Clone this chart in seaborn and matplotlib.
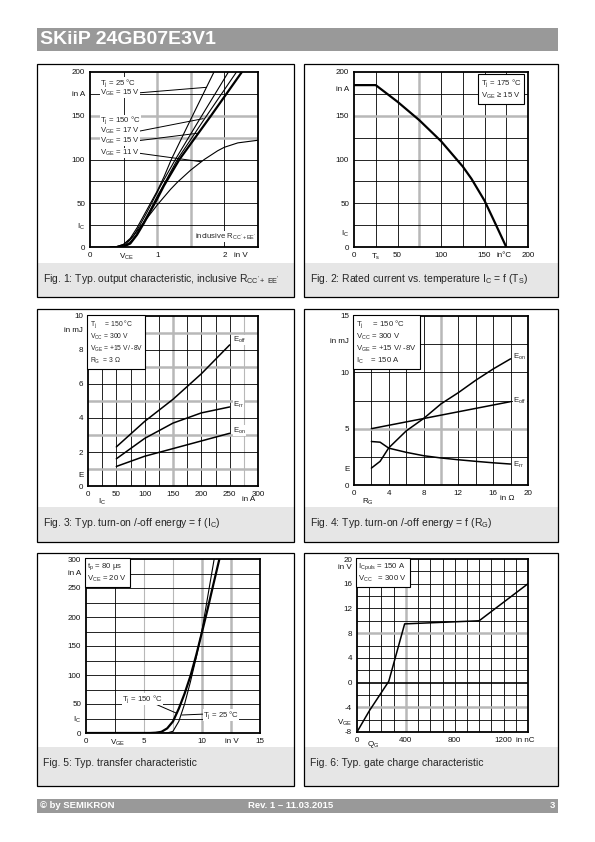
import matplotlib.pyplot as plt
import matplotlib.patches as mpatches
import seaborn as sns

# Fig. 1: output characteristic (V_CE in V, I_C in A)
f1_v_a = [0.3, 0.4, 0.5, 0.6, 0.7, 0.8, 0.9, 1.0, 1.1, 1.21, 1.5, 1.845]
f1_i_a = [0, 0.5, 3, 10, 22, 36, 50, 64, 80, 100, 146, 200]
f1_v_b = [0.35, 0.45, 0.55, 0.65, 0.75, 0.85, 0.95, 1.05, 1.27, 1.6, 2.06]
f1_i_b = [0, 0.5, 4, 13, 26, 40, 55, 70, 100, 142, 200]
f1_v_c = [0.38, 0.48, 0.58, 0.68, 0.78, 0.88, 0.98, 1.08, 1.30, 1.7, 2.18]
f1_i_c = [0, 0.5, 4, 13, 26, 40, 55, 69, 100, 146, 200]
f1_v_d = [0.4, 0.5, 0.6, 0.7, 0.8, 0.9, 1.0, 1.1, 1.33, 1.8, 2.26]
f1_i_d = [0, 0.5, 4, 14, 27, 41, 55, 70, 100, 150, 200]
f1_v_11 = [0.3, 0.4, 0.5, 0.6, 0.7, 0.8, 0.9, 1.0, 1.1, 1.2, 1.3, 1.5, 1.7, 1.9, 2.0, 2.2, 2.5]
f1_i_11 = [0, 0.5, 3, 9, 18, 28, 38, 48, 57, 66, 74, 88, 100, 110, 114, 119, 122]
f1_v_zero = [0.0, 0.4]
f1_i_zero = [0, 0]

# Fig. 2: rated current vs. sink temperature
f2_ts = [0, 25, 50, 75, 100, 125, 135, 150, 160, 175]
f2_ic = [185, 185, 166, 145, 121, 92, 78, 53, 32, 0]

# Fig. 3: switching energy vs. I_C
f3_ic = [50, 100, 150, 200, 250]
f3_eoff = [2.3, 3.8, 5.1, 6.6, 8.3]
f3_err = [1.6, 2.8, 3.7, 4.3, 4.65]
f3_eon = [1.15, 1.75, 2.2, 2.65, 3.1]

# Fig. 4: switching energy vs. R_G
f4_rg_on = [2, 3, 4, 6, 8, 10, 12, 14, 16, 18]
f4_eon = [1.5, 2.1, 3.3, 4.8, 5.9, 7.2, 8.2, 9.3, 10.3, 11.2]
f4_rg_off = [2, 4, 8, 12, 18]
f4_eoff = [5.0, 5.3, 5.9, 6.5, 7.4]
f4_rg_rr = [2, 3, 4, 6, 8, 10, 12, 14, 16, 18]
f4_err = [3.86, 3.8, 3.27, 2.9, 2.6, 2.4, 2.24, 2.1, 1.97, 1.86]

# Fig. 5: transfer characteristic
f5_v_150 = [0, 5.5, 6.0, 6.5, 7.0, 7.5, 8.0, 8.5, 9.0, 9.5, 10.0, 10.5, 11.0, 11.5]
f5_i_150 = [0, 0, 0.5, 2, 8, 20, 42, 68, 98, 134, 174, 215, 258, 300]
f5_v_25 = [0, 7.0, 7.5, 8.0, 8.5, 9.0, 9.5, 10.0, 10.5, 11.05]
f5_i_25 = [0, 0, 3, 20, 50, 88, 130, 177, 236, 300]

# Fig. 6: gate charge characteristic
f6_qg = [0, 100, 260, 390, 1000, 1400]
f6_vge = [-8, -4.6, 0.2, 9.5, 10.0, 16.0]

# tick labels
f1_xt, f1_xl = [0, 0.55, 1, 2, 2.25], ['0', '$V_{CE}$', '1', '2', 'in V']
f1_yt, f1_yl = [0, 25, 50, 100, 150, 175, 200], ['0', '$I_C$', '50', '100', '150', 'in A', '200']
f2_xt, f2_xl = [0, 25, 50, 100, 150, 173, 200], ['0', '$T_s$', '50', '100', '150', 'in°C', '200']
f2_yt, f2_yl = [0, 17, 50, 100, 150, 181, 200], ['0', '$I_C$', '50', '100', '150', 'in A', '200']
f3_xt, f3_xl = [0, 24, 50, 100, 150, 200, 250, 283, 300], ['0', '$I_C$', '50', '100', '150', '200', '250', 'in A', '300']
f3_yt, f3_yl = [0, 0.65, 2, 4, 6, 8, 9.2, 10], ['0', 'E', '2', '4', '6', '8', 'in mJ', '10']
f4_xt, f4_xl = [0, 1.6, 4, 8, 12, 16, 17.6, 20], ['0', '$R_G$', '4', '8', '12', '16', 'in Ω', '20']
f4_yt, f4_yl = [0, 1.5, 5, 10, 12.8, 15], ['0', 'E', '5', '10', 'in mJ', '15']
f5_xt, f5_xl = [0, 2.7, 5, 10, 12.6, 15], ['0', '$V_{GE}$', '5', '10', 'in V', '15']
f5_yt, f5_yl = [0, 25, 50, 100, 150, 200, 250, 276, 300], ['0', '$I_C$', '50', '100', '150', '200', '250', 'in A', '300']
f6_xt, f6_xl = [0, 130, 400, 800, 1200, 1375], ['0', '$Q_G$', '400', '800', '1200', 'in nC']
f6_yt, f6_yl = [-8, -6.2, -4, 0, 4, 8, 12, 16, 18.8, 20], ['-8', '$V_{GE}$', '-4', '0', '4', '8', '12', '16', 'in V', '20']

captions = [
    "Fig. 1: Typ. output characteristic, inclusive $R_{CC'+\\ EE'}$",
    "Fig. 2: Rated current vs. temperature $I_C$ = f ($T_S$)",
    "Fig. 3: Typ. turn-on /-off energy = f ($I_C$)",
    "Fig. 4: Typ. turn-on /-off energy = f ($R_G$)",
    "Fig. 5: Typ. transfer characteristic",
    "Fig. 6: Typ. gate charge characteristic",
]

# ---------------- style ----------------
sns.set_style("white")
plt.rcParams['font.family'] = ['Liberation Sans', 'DejaVu Sans']
plt.rcParams['mathtext.fontset'] = 'custom'
plt.rcParams['mathtext.rm'] = 'Liberation Sans'
plt.rcParams['mathtext.it'] = 'Liberation Sans'
plt.rcParams['mathtext.default'] = 'regular'

W, H = 595, 842
GRAY = '#b8b8b8'
fig = plt.figure(figsize=(W / 100, H / 100), dpi=100)


def box(x0, y0, x1, y1):
    return [x0 / W, 1 - y1 / H, (x1 - x0) / W, (y1 - y0) / H]


def rect(x0, y0, x1, y1, **kw):
    fig.add_artist(mpatches.Rectangle((x0 / W, 1 - y1 / H), (x1 - x0) / W, (y1 - y0) / H,
                                      transform=fig.transFigure, **kw))


def setup(ax, xlim, ylim, xt, xl, yt, yl, vk=(), vg=(), hk=(), hg=(), vt=(), ht=(), low=()):
    ax.set_xlim(*xlim)
    ax.set_ylim(*ylim)
    for v in vk:
        ax.axvline(v, color='black', lw=0.6, zorder=1)
    for v in vt:
        ax.axvline(v, color=GRAY, lw=0.8, zorder=1)
    for v in vg:
        ax.axvline(v, color=GRAY, lw=1.8, zorder=1)
    for h in hk:
        ax.axhline(h, color='black', lw=0.6, zorder=1)
    for h in ht:
        ax.axhline(h, color=GRAY, lw=0.8, zorder=1)
    for h in hg:
        ax.axhline(h, color=GRAY, lw=1.8, zorder=1)
    ax.set_xticks(xt, xl)
    ax.set_yticks(yt, yl)
    ax.tick_params(length=0, labelsize=5.8, pad=3.5, colors='#111111')
    # some axis-name labels sit a little lower than the numbers
    for i, extra in low:
        ax.xaxis.get_major_ticks()[i].set_pad(3.5 + extra)
    for s in ax.spines.values():
        s.set_color('black')
        s.set_linewidth(1.3)
        s.set_zorder(4)
    ax.set_xlabel('')
    ax.set_ylabel('')


def line(ax, x, y, lw=0.9):
    sns.lineplot(x=x, y=y, ax=ax, color='black', lw=lw, sort=False, estimator=None, zorder=3)


def infobox(ax, x, y, txt, size=5.6, family=None):
    kw = {} if family is None else {'family': family}
    ax.text(x, y, txt, fontsize=size, va='top', ha='left', linespacing=1.25, zorder=6,
            bbox=dict(boxstyle='square,pad=0.35', fc='white', ec='black', lw=0.8), **kw)


def wtext(ax, x, y, txt, ha='left'):
    ax.text(x, y, txt, fontsize=5.6, va='center', ha=ha, zorder=5,
            bbox=dict(boxstyle='square,pad=0.02', fc='white', ec='none'))


# ---------------- page decorations ----------------
rect(37, 28, 558, 51, fc='#999999', ec='none')
fig.text(40 / W, 1 - 40 / H, 'SKiiP 24GB07E3V1', color='white', fontsize=14,
         fontweight='bold', va='center', ha='left')
rect(37, 799, 558, 813, fc='#999999', ec='none')
fig.text(40 / W, 1 - 806 / H, '© by SEMIKRON', color='white', fontsize=6.8, fontweight='bold', va='center')
fig.text(291 / W, 1 - 806 / H, 'Rev. 1 – 11.03.2015', color='white', fontsize=6.8, fontweight='bold',
         va='center', ha='center')
fig.text(555 / W, 1 - 806 / H, '3', color='white', fontsize=6.8, fontweight='bold', va='center', ha='right')

rows = [(64, 263, 297), (309, 507, 542), (553, 747, 786)]
cols = [(37, 294), (304, 558)]
k = 0
for (top, cap, bot) in rows:
    for (l, r) in cols:
        rect(l, cap, r, bot, fc='#e6e6e6', ec='none', zorder=-1)
        rect(l, top, r, bot, fc='none', ec='black', lw=0.9, zorder=5)
        fig.text((l + 6) / W, 1 - (cap + 16) / H, captions[k], fontsize=7.5, va='center', ha='left')
        k += 1

# ---------------- Fig. 1 ----------------
ax1 = fig.add_axes(box(90, 72, 258, 247))
setup(ax1, (0, 2.5), (0, 200), f1_xt, f1_xl, f1_yt, f1_yl,
      vk=[0.5, 2.0], vg=[1.0, 1.5], hk=[25, 50, 75, 100, 175], hg=[125, 150])
line(ax1, f1_v_zero, f1_i_zero, 0.9)
line(ax1, f1_v_a, f1_i_a, 0.8)
line(ax1, f1_v_b, f1_i_b, 0.8)
line(ax1, f1_v_c, f1_i_c, 0.8)
line(ax1, f1_v_d, f1_i_d, 1.6)
line(ax1, f1_v_11, f1_i_11, 0.8)
ax1.plot([0.70, 1.735], [176, 182.5], color='black', lw=0.7, zorder=4)
ax1.plot([0.74, 1.685], [132.5, 146.7], color='black', lw=0.7, zorder=4)
ax1.plot([0.72, 1.6], [121.5, 130], color='black', lw=0.7, zorder=4)
ax1.plot([0.70, 1.65], [107.5, 97.5], color='black', lw=0.7, zorder=4)
wtext(ax1, 0.15, 187, '$T_j$ = 25 °C')
wtext(ax1, 0.15, 176, '$V_{GE}$ = 15 V')
wtext(ax1, 0.15, 144.5, '$T_j$ = 150 °C')
wtext(ax1, 0.15, 132.5, '$V_{GE}$ = 17 V')
wtext(ax1, 0.15, 121, '$V_{GE}$ = 15 V')
wtext(ax1, 0.15, 107.5, '$V_{GE}$ = 11 V')
wtext(ax1, 2.48, 12, "inclusive $R_{CC'+EE'}$", ha='right')

# ---------------- Fig. 2 ----------------
ax2 = fig.add_axes(box(354, 72, 528, 247))
setup(ax2, (0, 200), (0, 200), f2_xt, f2_xl, f2_yt, f2_yl,
      vk=[25, 50, 100, 125, 150, 175], vg=[75], hk=[25, 50, 75, 100, 125, 175], hg=[150])
line(ax2, f2_ts, f2_ic, 1.6)
infobox(ax2, 146, 194, '$T_j$ = 175 °C\n$V_{GE}$ ≥ 15 V')

# ---------------- Fig. 3 ----------------
ax3 = fig.add_axes(box(88, 316, 258, 486))
setup(ax3, (0, 300), (0, 10), f3_xt, f3_xl, f3_yt, f3_yl,
      vk=[25, 50, 75, 100, 125, 175, 200, 225, 250], vt=[275], vg=[150],
      hk=[2, 4, 6, 8], hg=[1, 3, 5, 7, 9], low=[(1, 4.5), (7, 3.5)])
line(ax3, f3_ic, f3_eoff, 1.1)
line(ax3, f3_ic, f3_err, 1.1)
line(ax3, f3_ic, f3_eon, 1.1)
wtext(ax3, 256, 8.6, '$E_{off}$')
wtext(ax3, 256, 4.75, '$E_{rr}$')
wtext(ax3, 256, 3.25, '$E_{on}$')
infobox(ax3, 3, 9.85, '$T_j$     = 150 °C\n$V_{CC}$ = 300 V\n$V_{GE}$ = +15 V/ -8V\n$R_G$  = 3 Ω',
        size=4.9, family=['Liberation Sans Narrow', 'Liberation Sans'])

# ---------------- Fig. 4 ----------------
ax4 = fig.add_axes(box(354, 316, 528, 485))
setup(ax4, (0, 20), (0, 15), f4_xt, f4_xl, f4_yt, f4_yl,
      vk=[2, 4, 6, 8, 12, 14, 16, 18], vg=[10], hk=[2.5, 7.5, 10, 12.5], hg=[5],
      low=[(1, 5), (6, 3.5)])
line(ax4, f4_rg_on, f4_eon, 1.1)
line(ax4, f4_rg_off, f4_eoff, 1.1)
line(ax4, f4_rg_rr, f4_err, 1.1)
wtext(ax4, 18.3, 11.4, '$E_{on}$')
wtext(ax4, 18.3, 7.5, '$E_{off}$')
wtext(ax4, 18.3, 1.8, '$E_{rr}$')
infobox(ax4, 0.25, 14.8, '$T_j$     = 150 °C\n$V_{CC}$ = 300 V\n$V_{GE}$ = +15 V/ -8V\n$I_C$    = 150 A')

# ---------------- Fig. 5 ----------------
ax5 = fig.add_axes(box(86, 559, 260, 733))
setup(ax5, (0, 15), (0, 300), f5_xt, f5_xl, f5_yt, f5_yl,
      vk=[2.5], vt=[5, 7.5], vg=[10, 12.5], hk=[25, 50, 75, 100, 125, 150, 175, 200, 225, 250, 275])
line(ax5, f5_v_150, f5_i_150, 1.6)
line(ax5, f5_v_25, f5_i_25, 0.8)
ax5.plot([5.4, 7.82], [55, 34], color='black', lw=0.7, zorder=4)
ax5.plot([8.25, 10.05], [31, 32.5], color='black', lw=0.7, zorder=4)
wtext(ax5, 3.1, 59, '$T_j$ = 150 °C')
wtext(ax5, 10.1, 31, '$T_j$ = 25 °C')
infobox(ax5, 0.12, 296, '$t_p$ = 80 µs\n$V_{CE}$ = 20 V')

# ---------------- Fig. 6 ----------------
ax6 = fig.add_axes(box(357, 559, 528, 732))
setup(ax6, (0, 1400), (-8, 20), f6_xt, f6_xl, f6_yt, f6_yl,
      vk=[100, 200, 300, 500, 600, 700, 800, 900, 1000, 1100, 1200, 1300], vg=[400],
      hk=[-6, -2, 2, 4, 6, 10, 12, 14, 16, 18], hg=[-4, 8], low=[(1, 1.5)])
ax6.axhline(0, color='black', lw=1.2, zorder=2)
line(ax6, f6_qg, f6_vge, 1.1)
infobox(ax6, 12, 19.6, '$I_{Cpuls}$ = 150 A\n$V_{CC}$   = 300 V')

plt.savefig('out.png', dpi=100)
